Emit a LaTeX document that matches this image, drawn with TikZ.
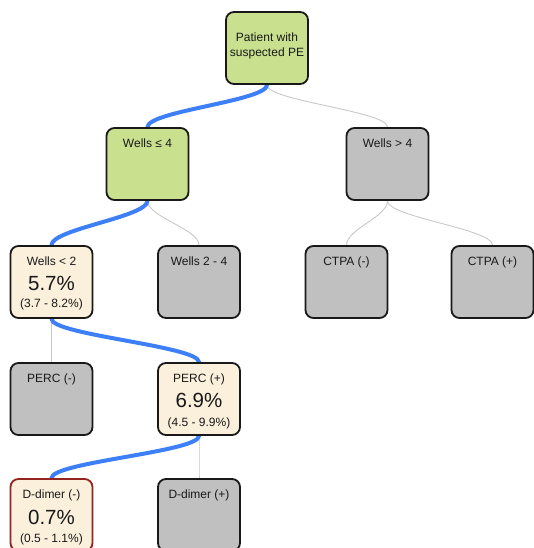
\documentclass[tikz,border=0pt]{standalone}
\usepackage{fontspec}
\setmainfont{Liberation Sans}
\usetikzlibrary{backgrounds}
\definecolor{greenF}{RGB}{201,224,143}
\definecolor{grayF}{RGB}{192,192,192}
\definecolor{creamF}{RGB}{251,240,220}
\definecolor{redB}{RGB}{150,36,30}
\definecolor{blueE}{RGB}{61,127,246}
\definecolor{grayE}{RGB}{200,200,200}
\definecolor{txt}{RGB}{25,25,25}
\begin{document}
\begin{tikzpicture}[x=1pt,y=-1pt,
  box/.style={draw=black!90, line width=1.8pt, rounded corners=8pt, minimum width=82pt, minimum height=72pt, inner sep=0pt},
  greenbox/.style={box, fill=greenF},
  graybox/.style={box, fill=grayF},
  creambox/.style={box, fill=creamF},
  redbox/.style={box, fill=creamF, draw=redB},
  lbl/.style={font=\fontsize{12}{14}\selectfont, text=txt, anchor=base, inner sep=0pt},
  big/.style={font=\fontsize{20.5}{24}\selectfont, text=txt, anchor=base, inner sep=0pt},
  hot/.style={draw=blueE, line width=4pt, line cap=round},
  cold/.style={draw=grayE, line width=0.9pt}]
\useasboundingbox (0,0) rectangle (534,548);
\clip (0,0) rectangle (534,548);
\newcommand\conn[3]{\draw[#1] (#2.south) .. controls +(0,16) and +(0,-16) .. (#3.north);}

% boxes
\node[greenbox] (pt) at (267,48) {};
\node[greenbox] (wle) at (147.5,164) {};
\node[graybox] (wgt) at (387.5,164) {};
\node[creambox] (wlt) at (51.5,282) {};
\node[graybox] (w24) at (199,282) {};
\node[graybox] (ctn) at (346.5,282) {};
\node[graybox] (ctp) at (492.5,282) {};
\node[graybox] (pcn) at (51.5,399) {};
\node[creambox] (pcp) at (199,399) {};
\node[redbox] (ddn) at (51.5,515) {};
\node[graybox] (ddp) at (199,515) {};

% texts
\node[lbl] (t1) at (267,42) {Patient with};
\node[lbl] (t2) at (267,57) {suspected PE};
\node[lbl] (t3) at (147.5,147.5) {Wells ≤ 4};
\node[lbl] (t4) at (387.5,147.5) {Wells > 4};
\node[lbl] (t5) at (51.5,265.5) {Wells < 2};
\node[big] (t6) at (51.5,290.5) {5.7\%};
\node[lbl] (t7) at (51.5,307.5) {(3.7 - 8.2\%)};
\node[lbl] (t8) at (199,265.5) {Wells 2 - 4};
\node[lbl] (t9) at (346.5,265.5) {CTPA (-)};
\node[lbl] (t10) at (492.5,265.5) {CTPA (+)};
\node[lbl] (t11) at (51.5,382.5) {PERC (-)};
\node[lbl] (t12) at (199,382.5) {PERC (+)};
\node[big] (t13) at (199,407.3) {6.9\%};
\node[lbl] (t14) at (199,426) {(4.5 - 9.9\%)};
\node[lbl] (t15) at (51.5,498.5) {D-dimer (-)};
\node[big] (t16) at (51.5,524.3) {0.7\%};
\node[lbl] (t17) at (51.5,542.3) {(0.5 - 1.1\%)};
\node[lbl] (t18) at (199,498.5) {D-dimer (+)};

% connectors
\begin{scope}[on background layer]
\conn{cold}{pt}{wgt}
\conn{cold}{wle}{w24}
\conn{cold}{wgt}{ctn}
\conn{cold}{wgt}{ctp}
\conn{cold}{wlt}{pcn}
\conn{cold}{pcp}{ddp}
\conn{hot}{pt}{wle}
\conn{hot}{wle}{wlt}
\conn{hot}{wlt}{pcp}
\conn{hot}{pcp}{ddn}
\end{scope}
\end{tikzpicture}
\end{document}
